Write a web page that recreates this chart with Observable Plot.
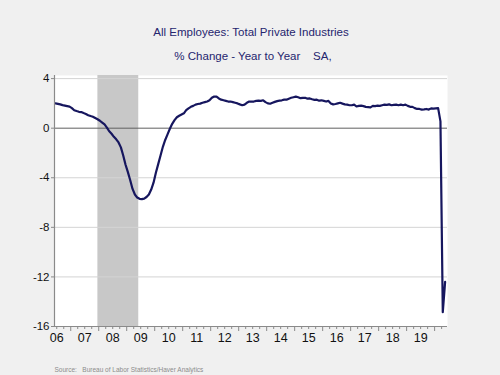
<!DOCTYPE html>
<html>
<head>
<meta charset="utf-8">
<script src="https://cdn.jsdelivr.net/npm/d3@7"></script>
<script src="https://cdn.jsdelivr.net/npm/@observablehq/plot@0.6"></script>
<style>
  html, body { margin: 0; padding: 0; background: #f0f0f0; }
  #chart { width: 500px; height: 375px; }
</style>
</head>
<body>
<div id="chart"></div>
<script>
// Chart texts
const title = "All Employees: Total Private Industries";
const subtitle = "% Change - Year to Year    SA,";
const source = "Source:   Bureau of Labor Statistics/Haver Analytics";

// Monthly YoY % change, first value June 2006
const firstYear = 2006;
const firstMonth = 6;
const v2006 = [2.0, 1.96, 1.92, 1.86, 1.82, 1.78, 1.74];
const v2007 = [1.62, 1.45, 1.38, 1.32, 1.30, 1.22, 1.15, 1.05, 0.98, 0.92, 0.82, 0.72];
const v2008 = [0.60, 0.45, 0.30, 0.05, -0.25, -0.45, -0.70, -0.90, -1.15, -1.55, -2.20, -2.95];
const v2009 = [-3.55, -4.20, -4.90, -5.35, -5.60, -5.70, -5.72, -5.68, -5.55, -5.35, -4.95, -4.40];
const v2010 = [-3.60, -2.90, -2.20, -1.50, -0.95, -0.50, -0.05, 0.35, 0.65, 0.88, 1.00, 1.10];
const v2011 = [1.20, 1.45, 1.60, 1.72, 1.80, 1.90, 1.95, 1.98, 2.05, 2.10, 2.15, 2.25];
const v2012 = [2.45, 2.55, 2.55, 2.40, 2.30, 2.25, 2.20, 2.15, 2.15, 2.10, 2.05, 2.00];
const v2013 = [1.92, 1.85, 1.90, 2.05, 2.15, 2.15, 2.15, 2.20, 2.22, 2.20, 2.25, 2.10];
const v2014 = [2.00, 1.97, 2.05, 2.12, 2.18, 2.22, 2.25, 2.30, 2.30, 2.38, 2.45, 2.50];
const v2015 = [2.55, 2.50, 2.42, 2.45, 2.45, 2.38, 2.40, 2.33, 2.28, 2.30, 2.22, 2.25];
const v2016 = [2.20, 2.15, 2.20, 2.00, 1.92, 1.95, 2.00, 2.05, 1.98, 1.92, 1.90, 1.85];
const v2017 = [1.85, 1.90, 1.75, 1.80, 1.82, 1.78, 1.72, 1.70, 1.68, 1.80, 1.78, 1.82];
const v2018 = [1.80, 1.85, 1.90, 1.88, 1.92, 1.85, 1.88, 1.90, 1.85, 1.90, 1.85, 1.90];
const v2019 = [1.80, 1.72, 1.72, 1.62, 1.55, 1.55, 1.50, 1.52, 1.55, 1.50, 1.60, 1.58];
const v2020 = [1.60, 1.62, 0.55, -14.85, -12.40];

// Recession (NBER): Dec 2007 - Jun 2009
const recessionStart = 2007.97;
const recessionEnd = 2009.43;

// Axis ticks
const yTicks = [-16, -12, -8, -4, 0, 4];
const gridValues = [-12, -8, -4, 4];
const yearLabels = ["06","07","08","09","10","11","12","13","14","15","16","17","18","19"];
const xDomain = [2006.42, 2020.46];

// build table
const values = [].concat(v2006, v2007, v2008, v2009, v2010, v2011, v2012, v2013, v2014, v2015, v2016, v2017, v2018, v2019, v2020);
const data = values.map((v, i) => {
  const m = firstMonth - 1 + i;
  return {t: firstYear + Math.floor(m / 12) + ((m % 12) + 0.5) / 12, v};
});
const years = yearLabels.map((s, i) => ({year: 2006 + i, label: s}));
const majorTicks = d3.range(2007, 2021);
const minorTicks = d3.range(2006.5, 2020.5, 0.25).filter(t => !Number.isInteger(t));

const navy = "#16165e";
const chart = Plot.plot({
  width: 500,
  height: 375,
  marginTop: 75,
  marginBottom: 49,
  marginLeft: 54,
  marginRight: 53,
  style: {background: "#f0f0f0", fontFamily: "'Liberation Sans', Arial, sans-serif", overflow: "visible"},
  x: {domain: xDomain},
  y: {domain: [-16, 4.25]},
  marks: [
    Plot.frame({fill: "white", stroke: "none"}),
    Plot.rectY([{a: recessionStart, b: recessionEnd}], {x1: "a", x2: "b", y1: -16, y2: 4.25, fill: "#c8c8c8"}),
    Plot.gridY(gridValues, {stroke: "#d4d4d4", strokeOpacity: 1, strokeWidth: 1}),
    Plot.ruleY([0], {stroke: "#606060", strokeWidth: 1}),
    Plot.line(data, {x: "t", y: "v", stroke: navy, strokeWidth: 2.2, curve: "linear"}),
    Plot.ruleX([xDomain[0]], {stroke: "#8a8a8a", strokeWidth: 1.2}),
    Plot.ruleY([-16], {stroke: "#8a8a8a", strokeWidth: 1.2}),
    Plot.axisY(yTicks, {tickSize: 3, tickPadding: 2, fontSize: 11.5, fill: "#111", stroke: "#8a8a8a", tickFormat: d => String(d), label: null}),
    Plot.axisX(majorTicks, {tickSize: 5, tickFormat: () => "", stroke: "#8a8a8a", label: null}),
    Plot.axisX(minorTicks, {tickSize: 3, tickFormat: () => "", stroke: "#8a8a8a", label: null}),
    Plot.text(years, {x: d => d.year + 0.5, text: "label", frameAnchor: "bottom", dy: 7, lineAnchor: "top", fontSize: 12.5, fill: "#111"}),
    Plot.text([title], {frameAnchor: "top", dy: -48, fontSize: 11.5, fill: "#25256e"}),
    Plot.text([subtitle], {frameAnchor: "top", dy: -24, fontSize: 11.5, fill: "#25256e", dx: 2}),
    Plot.text([source], {frameAnchor: "bottom-left", dy: 45, fontSize: 6.5, fill: "#8c8c8c", textAnchor: "start"})
  ]
});
document.getElementById("chart").appendChild(chart);
</script>
</body>
</html>
